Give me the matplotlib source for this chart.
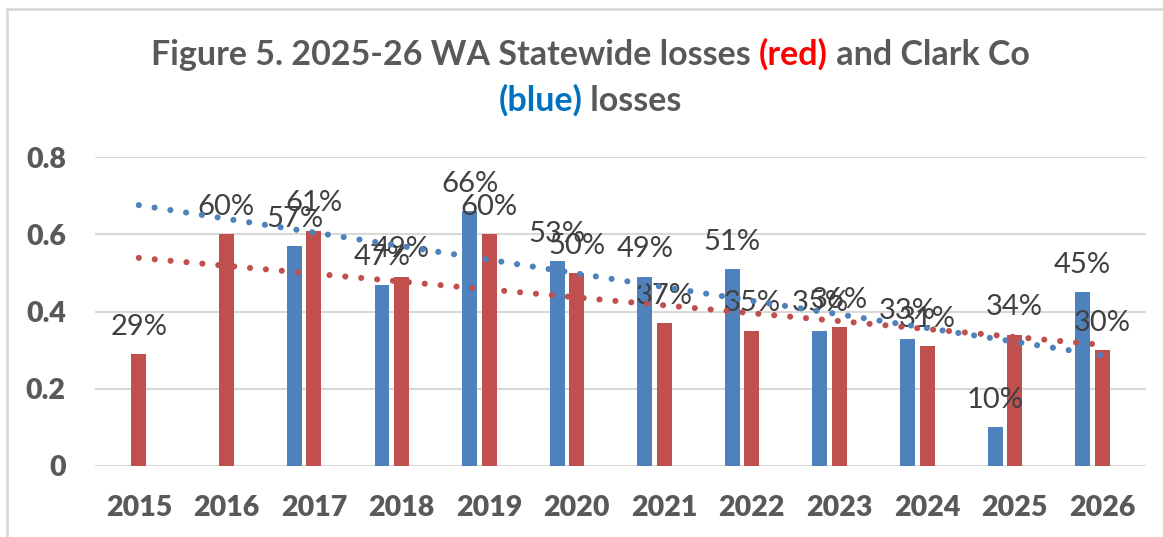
import matplotlib
matplotlib.use("Agg")
import matplotlib.pyplot as plt
from matplotlib.lines import Line2D
import numpy as np

# data
years = ["2015", "2016", "2017", "2018", "2019", "2020",
         "2021", "2022", "2023", "2024", "2025", "2026"]
clark = [None, None, 0.57, 0.47, 0.66, 0.53, 0.49, 0.51, 0.35, 0.33, 0.10, 0.45]
statewide = [0.29, 0.60, 0.61, 0.49, 0.60, 0.50, 0.37, 0.35, 0.36, 0.31, 0.34, 0.30]
y_ticks = [0, 0.2, 0.4, 0.6, 0.8]
y_tick_labels = ["0", "0.2", "0.4", "0.6", "0.8"]

BLUE = "#4F81BD"
RED = "#C0504D"
GRAY_TXT = "#595959"
LABEL_TXT = "#404040"
GRID = "#D9D9D9"
FONT = "Lato"

W, H = 1163, 537
fig = plt.figure(figsize=(W / 100, H / 100), dpi=100)
ax = fig.add_axes([95 / W, 1 - 466 / H, (1146 - 95) / W, (466 - 157.3) / H])

x = np.arange(len(years))
bar_w = 0.171
blue_off = -0.223

# bars
bx = np.array([i for i, v in enumerate(clark) if v is not None])
bv = np.array([v for v in clark if v is not None])
ax.bar(bx + blue_off, bv, width=bar_w, color=BLUE, zorder=2)
ax.bar(x, statewide, width=bar_w, color=RED, zorder=2)

# data labels (outside end)
for xi, v in zip(bx, bv):
    ax.annotate(f"{v:.0%}", (xi + blue_off, v), xytext=(0, 14), textcoords="offset points",
                ha="center", va="baseline", fontsize=21, family=FONT, color=LABEL_TXT, zorder=3)
for xi, v in zip(x, statewide):
    ax.annotate(f"{v:.0%}", (xi, v), xytext=(0, 14), textcoords="offset points",
                ha="center", va="baseline", fontsize=21, family=FONT, color=LABEL_TXT, zorder=3)

# linear trendlines, Excel style round dots
tx = np.array([0, len(years) - 1])
kb = np.polyfit(bx, bv, 1)
kr = np.polyfit(x, statewide, 1)
ax.plot(tx, np.polyval(kb, tx), color=BLUE, lw=4.4, ls=(0, (0.01, 2.6)),
        dash_capstyle="round", zorder=4)
ax.plot(tx, np.polyval(kr, tx), color=RED, lw=4.4, ls=(0, (0.01, 2.6)),
        dash_capstyle="round", zorder=4)

ax.set_xlim(-0.5, len(years) - 0.5)
ax.set_ylim(0, 0.8)
ax.set_yticks(y_ticks)
ax.set_yticklabels(y_tick_labels)
ax.set_xticks(x)
ax.set_xticklabels(years)
ax.grid(axis="y", color=GRID, lw=1.5, zorder=0)
ax.set_axisbelow(True)
for s in ax.spines.values():
    s.set_visible(False)
ax.tick_params(length=0, labelsize=20.5, labelcolor=GRAY_TXT)
ax.tick_params(axis="y", pad=21)
ax.tick_params(axis="x", pad=21)
for lab in ax.get_xticklabels() + ax.get_yticklabels():
    lab.set_family(FONT)
    lab.set_fontweight("heavy")

# chart area border (left and top visible)
fig.add_artist(Line2D([7 / W, 7 / W], [0, 1 - 9 / H], color=GRID, lw=2))
fig.add_artist(Line2D([7 / W, 1], [1 - 9 / H, 1 - 9 / H], color=GRID, lw=2))


def colored_line(parts, cx, y):
    """Draw one title line made of coloured pieces, centred on cx (pixels)."""
    fig.canvas.draw()
    rend = fig.canvas.get_renderer()
    texts = []
    for s, c in parts:
        t = fig.text(0, 1 - y / H, s, color=c, fontsize=24.5, fontweight="bold",
                     family=FONT, ha="left", va="baseline")
        texts.append(t)
    widths = [t.get_window_extent(rend).width for t in texts]
    total = sum(widths)
    left = cx - total / 2
    for t, w in zip(texts, widths):
        t.set_x(left / W)
        left += w


colored_line([("Figure 5. 2025-26 WA Statewide losses ", GRAY_TXT),
              ("(red)", "#FF0000"),
              (" and Clark Co", GRAY_TXT)], 590, 65)
colored_line([("(blue)", "#0070C0"), (" losses", GRAY_TXT)], 590, 111)

fig.savefig("out.png", dpi=100)
